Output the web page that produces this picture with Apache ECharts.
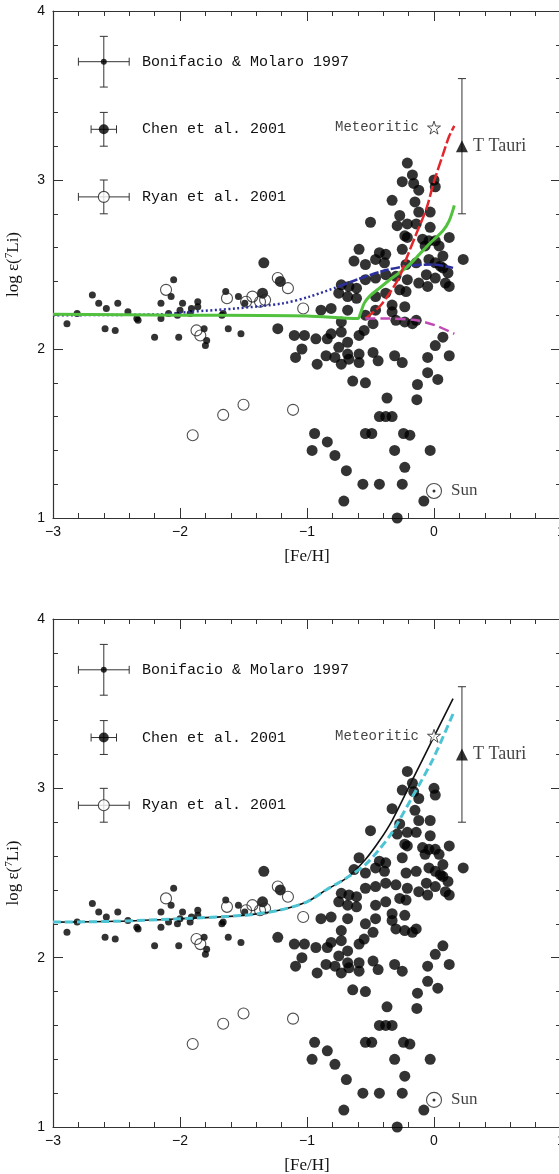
<!DOCTYPE html>
<html>
<head>
<meta charset="utf-8">
<script src="https://cdn.jsdelivr.net/npm/echarts@6/dist/echarts.min.js"></script>
<style>
  html, body { margin: 0; padding: 0; background: #fff; }
  #chart { width: 559px; height: 1174px; }
</style>
</head>
<body>
<div id="chart"></div>
<script>
// Bonifacio & Molaro 1997 (small filled dots)
const bonifacio = [
  [-2.89, 2.15], [-2.81, 2.21], [-2.69, 2.32], [-2.64, 2.27], [-2.58, 2.24], [-2.59, 2.12],
  [-2.51, 2.11], [-2.49, 2.27], [-2.41, 2.22], [-2.34, 2.18], [-2.33, 2.17], [-2.20, 2.07],
  [-2.15, 2.27], [-2.15, 2.18], [-2.07, 2.31], [-2.05, 2.41], [-2.09, 2.21], [-2.01, 2.07],
  [-2.02, 2.20], [-2.00, 2.23], [-1.98, 2.27], [-1.92, 2.21], [-1.91, 2.24], [-1.86, 2.28],
  [-1.86, 2.25], [-1.81, 2.12], [-1.80, 2.02], [-1.79, 2.05], [-1.67, 2.20], [-1.66, 2.21],
  [-1.64, 2.34], [-1.62, 2.12], [-1.54, 2.31], [-1.52, 2.09], [-1.49, 2.27]
];

// Chen et al. 2001 (large filled dots)
const chen = [
  [-1.34, 2.51], [-1.35, 2.33], [-1.23, 2.12], [-1.21, 2.40], [-1.10, 2.08], [-1.02, 2.08],
  [-1.04, 2.00], [-1.09, 1.95], [-0.93, 2.06],
  [-0.92, 1.91], [-0.84, 2.06], [-0.81, 2.09], [-0.85, 1.96], [-0.78, 1.95], [-0.73, 1.91],
  [-0.75, 2.01], [-0.68, 2.04], [-0.68, 1.97], [-0.67, 1.94], [-0.59, 1.97], [-0.59, 1.92],
  [-0.59, 2.08], [-0.55, 2.11], [-0.48, 1.98], [-0.44, 1.93], [-0.31, 1.96], [-0.25, 1.92],
  [-0.64, 1.81], [-0.54, 1.80], [-0.135, 1.70], [-0.13, 1.79], [-0.05, 1.86], [0.03, 1.82],
  [-0.05, 1.95], [0.01, 2.02], [0.07, 2.07], [0.12, 1.96], [-0.37, 1.71], [-0.43, 1.60],
  [-0.38, 1.60], [-0.33, 1.60], [-0.54, 1.50], [-0.49, 1.50], [-0.24, 1.50], [-0.19, 1.49],
  [-0.94, 1.50], [-0.84, 1.45], [-0.96, 1.40], [-0.78, 1.37], [-0.31, 1.40], [-0.03, 1.40],
  [-0.69, 1.28], [-0.23, 1.30], [-0.56, 1.20], [-0.43, 1.20], [-0.25, 1.20], [-0.71, 1.10],
  [-0.08, 1.10], [-0.29, 1.00],
  [-0.73, 2.10], [-0.48, 2.15], [-0.30, 2.17], [-0.23, 2.16], [-0.17, 2.15],
  [-0.89, 2.23], [-0.81, 2.24], [-0.68, 2.23], [-0.73, 2.16], [-0.54, 2.20], [-0.46, 2.23],
  [-0.33, 2.26], [-0.23, 2.25], [-0.33, 2.22], [-0.14, 2.17],
  [-0.75, 2.33], [-0.68, 2.31], [-0.61, 2.30], [-0.46, 2.31], [-0.38, 2.33], [-0.27, 2.35],
  [-0.22, 2.34], [-0.05, 2.37], [0.12, 2.37],
  [-0.73, 2.38], [-0.67, 2.37], [-0.61, 2.36], [-0.54, 2.41], [-0.46, 2.42], [-0.38, 2.44],
  [-0.30, 2.43], [-0.21, 2.41], [-0.12, 2.39], [-0.06, 2.44], [0.01, 2.42], [0.09, 2.39],
  [0.11, 2.45], [0.07, 2.48], [-0.22, 2.50], [-0.14, 2.51], [0.05, 2.49],
  [-0.21, 3.10], [-0.17, 3.03], [-0.25, 2.99], [-0.16, 2.98], [0.00, 3.00], [0.01, 2.96],
  [-0.12, 2.94], [-0.33, 2.88], [-0.15, 2.87], [-0.12, 2.81], [-0.03, 2.81], [-0.50, 2.75],
  [-0.27, 2.79], [-0.29, 2.73], [-0.21, 2.74], [-0.14, 2.74], [-0.03, 2.72], [-0.23, 2.67],
  [-0.21, 2.66], [-0.09, 2.65], [-0.04, 2.64], [0.01, 2.64], [0.12, 2.66], [-0.07, 2.61],
  [0.04, 2.61], [-0.25, 2.59], [-0.59, 2.59], [-0.43, 2.57], [-0.38, 2.56], [0.07, 2.55],
  [0.23, 2.53], [-0.63, 2.52], [-0.54, 2.50], [-0.46, 2.53], [-0.39, 2.51], [-0.04, 2.53],
  [0.01, 2.51]
];

// Ryan et al. 2001 (open circles)
const ryan = [
  [-2.11, 2.35], [-1.87, 2.11], [-1.84, 2.08], [-1.63, 2.30], [-1.48, 2.28], [-1.43, 2.31],
  [-1.37, 2.28], [-1.33, 2.29], [-1.23, 2.42], [-1.15, 2.36], [-1.03, 2.24],
  [-1.90, 1.49], [-1.66, 1.61], [-1.50, 1.67], [-1.11, 1.64]
];

// legend entries with their typical error bars
const legendNames = ['Bonifacio & Molaro 1997', 'Chen et al. 2001', 'Ryan et al. 2001'];
const legendX = -2.6;
const legendY = [3.7, 3.3, 2.9];
const legendErrX = [0.2, 0.1, 0.2];
const legendErrY = [0.15, 0.1, 0.1];
const legendTextX = -2.3;

// reference points
const tTauri = [0.22, 3.2, 0.4];
const meteoritic = [0.0, 3.31];
const sun = [0.0, 1.16];

// model curves, upper panel
const greenModel = [[-3, 2.205], [-2, 2.2], [-1, 2.195], [-0.6, 2.18], [-0.58, 2.21], [-0.55, 2.27],
  [-0.51, 2.31], [-0.43, 2.36], [-0.33, 2.42], [-0.22, 2.48], [-0.14, 2.54], [-0.04, 2.62],
  [0.07, 2.70], [0.12, 2.76], [0.16, 2.85]];
const blueDotted = [[-3, 2.2], [-2.16, 2.205], [-1.92, 2.22], [-1.56, 2.24], [-1.19, 2.27],
  [-0.98, 2.31], [-0.75, 2.37]];
const blueDashed = [[-0.75, 2.37], [-0.61, 2.41], [-0.41, 2.46], [-0.22, 2.49], [-0.01, 2.50], [0.15, 2.48]];
const redModel = [[-0.54, 2.18], [-0.43, 2.25], [-0.35, 2.33], [-0.27, 2.43], [-0.22, 2.53],
  [-0.14, 2.68], [-0.06, 2.83], [0.0, 2.99], [0.07, 3.15], [0.12, 3.26], [0.16, 3.32]];
const magentaModel = [[-0.54, 2.18], [-0.35, 2.18], [-0.14, 2.17], [0.01, 2.14], [0.16, 2.09]];

// model curves, lower panel
const blackModel = [[-3, 2.21], [-2.5, 2.215], [-2, 2.23], [-1.5, 2.25], [-1.22, 2.28], [-1, 2.33],
  [-0.85, 2.40], [-0.69, 2.47], [-0.54, 2.58], [-0.43, 2.69], [-0.33, 2.81], [-0.17, 3.05],
  [-0.01, 3.29], [0.15, 3.53]];
const cyanModel = [[-3, 2.21], [-2.5, 2.215], [-2, 2.23], [-1.5, 2.25], [-1.22, 2.28], [-1, 2.33],
  [-0.85, 2.40], [-0.69, 2.47], [-0.54, 2.55], [-0.43, 2.64], [-0.33, 2.74], [-0.17, 2.95],
  [-0.01, 3.17], [0.15, 3.44]];

const chart = echarts.init(document.getElementById('chart'));

const axisCol = '#333';
const txtCol = '#111';
const sans = 'Liberation Sans';
const serif = 'Liberation Serif';
const mono = 'Liberation Mono';
const starPath = 'path://M50,2 L61,36 L97,36 L68,57 L79,92 L50,71 L21,92 L32,57 L3,36 L39,36 Z';

function axesFor(g) {
  const base = {
    gridIndex: g, type: 'value',
    axisLine: { show: true, onZero: false, lineStyle: { color: axisCol, width: 1.2 } },
    axisTick: { inside: true, length: 10, lineStyle: { color: axisCol } },
    minorTick: { show: true, splitNumber: 5, length: 5, lineStyle: { color: axisCol } },
    splitLine: { show: false }
  };
  const xb = Object.assign({}, base, {
    min: -3, max: 1, interval: 1, position: 'bottom',
    axisLabel: {
      formatter: v => (v < 0 ? '\u2212' + Math.abs(v) : '' + v),
      fontFamily: sans, fontSize: 14, color: txtCol, margin: 7
    },
    name: '[Fe/H]', nameLocation: 'middle', nameGap: 30,
    nameTextStyle: { fontFamily: serif, fontSize: 17, color: txtCol }
  });
  const xt = Object.assign({}, base, { min: -3, max: 1, interval: 1, position: 'top', axisLabel: { show: false } });
  const yl = Object.assign({}, base, {
    min: 1, max: 4, interval: 1, position: 'left',
    axisLabel: { fontFamily: sans, fontSize: 14, color: txtCol, margin: 8 },
    name: 'log \u03b5({sup|7}Li)', nameLocation: 'middle', nameGap: 29,
    nameTextStyle: {
      fontFamily: serif, fontSize: 17, color: txtCol, lineHeight: 20,
      rich: { sup: { fontFamily: serif, fontSize: 11, verticalAlign: 'top', lineHeight: 20, padding: [0, 0, 6, 0] } }
    }
  });
  const yr = Object.assign({}, base, { min: 1, max: 4, interval: 1, position: 'right', axisLabel: { show: false } });
  return { x: [xb, xt], y: [yl, yr] };
}

function renderErr(params, api) {
  const x = api.value(0), y = api.value(1), dx = api.value(2), dy = api.value(3);
  const cap = 4;
  const st = { stroke: '#333', lineWidth: 1 };
  const kids = [];
  if (dx > 0) {
    const l = api.coord([x - dx, y]), r = api.coord([x + dx, y]);
    kids.push({ type: 'line', shape: { x1: l[0], y1: l[1], x2: r[0], y2: r[1] }, style: st });
    kids.push({ type: 'line', shape: { x1: l[0], y1: l[1] - cap, x2: l[0], y2: l[1] + cap }, style: st });
    kids.push({ type: 'line', shape: { x1: r[0], y1: r[1] - cap, x2: r[0], y2: r[1] + cap }, style: st });
  }
  if (dy > 0) {
    const t = api.coord([x, y + dy]), b = api.coord([x, y - dy]);
    kids.push({ type: 'line', shape: { x1: t[0], y1: t[1], x2: b[0], y2: b[1] }, style: st });
    kids.push({ type: 'line', shape: { x1: t[0] - cap, y1: t[1], x2: t[0] + cap, y2: t[1] }, style: st });
    kids.push({ type: 'line', shape: { x1: b[0] - cap, y1: b[1], x2: b[0] + cap, y2: b[1] }, style: st });
  }
  return { type: 'group', children: kids };
}

function renderLegendText(params, api) {
  const p = api.coord([api.value(0), api.value(1)]);
  return {
    type: 'text', x: p[0], y: p[1],
    style: { text: legendNames[params.dataIndex], font: '15px "' + mono + '"', fill: txtCol, textVerticalAlign: 'middle' }
  };
}

function panelSeries(g, curves) {
  const ax = { xAxisIndex: 2 * g, yAxisIndex: 2 * g };
  const errData = legendY.map((y, i) => [legendX, y, legendErrX[i], legendErrY[i]]);
  errData.push([tTauri[0], tTauri[1], 0, tTauri[2]]);
  const s = [
    Object.assign({ type: 'scatter', data: bonifacio, symbolSize: 7, itemStyle: { color: '#000' }, z: 2 }, ax),
    Object.assign({ type: 'scatter', data: chen, symbolSize: 11, itemStyle: { color: '#000' }, z: 2 }, ax),
    Object.assign({ type: 'scatter', data: ryan, symbolSize: 11,
      itemStyle: { color: 'rgba(0,0,0,0)', borderColor: '#222', borderWidth: 1.1 }, z: 2 }, ax),
    Object.assign({ type: 'custom', data: errData, renderItem: renderErr, z: 3 }, ax),
    Object.assign({ type: 'scatter', data: [[legendX, legendY[0]]], symbolSize: 6, itemStyle: { color: '#000' }, z: 4 }, ax),
    Object.assign({ type: 'scatter', data: [[legendX, legendY[1]]], symbolSize: 10, itemStyle: { color: '#000' }, z: 4 }, ax),
    Object.assign({ type: 'scatter', data: [[legendX, legendY[2]]], symbolSize: 11,
      itemStyle: { color: '#fff', borderColor: '#222', borderWidth: 1.1 }, z: 4 }, ax),
    Object.assign({ type: 'custom', data: legendY.map(y => [legendTextX, y]), renderItem: renderLegendText, z: 4 }, ax),
    Object.assign({ type: 'scatter', data: [[tTauri[0], tTauri[1]]], symbol: 'triangle', symbolSize: 12,
      itemStyle: { color: '#000' }, z: 4,
      label: { show: true, position: 'right', distance: 5, formatter: 'T Tauri', fontFamily: serif, fontSize: 18, color: txtCol } }, ax),
    Object.assign({ type: 'scatter', data: [meteoritic], symbol: starPath, symbolSize: 13,
      itemStyle: { color: '#fff', borderColor: '#222', borderWidth: 1 }, z: 6,
      label: { show: true, position: 'left', distance: 8, formatter: 'Meteoritic', fontFamily: mono, fontSize: 14, color: txtCol } }, ax),
    Object.assign({ type: 'scatter', data: [sun], symbolSize: 15,
      itemStyle: { color: '#fff', borderColor: '#222', borderWidth: 1.1 }, z: 4,
      label: { show: true, position: 'right', distance: 9, formatter: 'Sun', fontFamily: serif, fontSize: 17, color: txtCol } }, ax),
    Object.assign({ type: 'scatter', data: [sun], symbolSize: 3, itemStyle: { color: '#000' }, z: 5 }, ax)
  ];
  curves.forEach(c => {
    s.push(Object.assign({
      type: 'line', data: c.data, showSymbol: false, smooth: 0.3, z: c.z,
      lineStyle: { color: c.color, width: c.width, type: c.dash || 'solid', cap: 'butt' }
    }, ax));
  });
  return s;
}

const a0 = axesFor(0), a1 = axesFor(1);

const option = {
  animation: false,
  backgroundColor: '#fff',
  grid: [
    { left: 53, top: 11, width: 508, height: 507, containLabel: false, outerBoundsMode: 'none' },
    { left: 53, top: 619, width: 508, height: 508, containLabel: false, outerBoundsMode: 'none' }
  ],
  xAxis: [].concat(a0.x, a1.x),
  yAxis: [].concat(a0.y, a1.y),
  series: [].concat(
    panelSeries(0, [
      { data: blueDotted, color: '#2b2f9e', width: 2.5, dash: [2, 2.5], z: 5 },
      { data: blueDashed, color: '#2b2f9e', width: 2.5, dash: [9, 2], z: 5 },
      { data: greenModel, color: '#52c23e', width: 3, z: 6 },
      { data: redModel, color: '#e3262b', width: 2.5, dash: [11, 3], z: 7 },
      { data: magentaModel, color: '#c04bb4', width: 2.5, dash: [10, 5], z: 7 }
    ]),
    panelSeries(1, [
      { data: blackModel, color: '#111', width: 1.6, z: 5 },
      { data: cyanModel, color: '#4cc4d4', width: 3, dash: [8, 4], z: 6 }
    ])
  )
};

chart.setOption(option);
</script>
</body>
</html>
